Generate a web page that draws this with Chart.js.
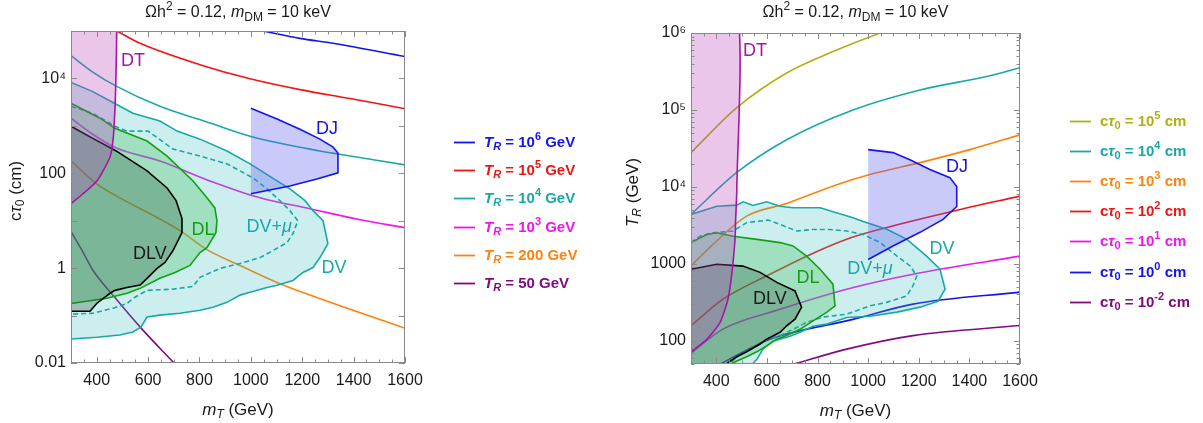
<!DOCTYPE html>
<html>
<head>
<meta charset="utf-8">
<script src="https://cdn.jsdelivr.net/npm/chart.js@4.4.0/dist/chart.umd.min.js"></script>
<style>
  html, body { margin: 0; padding: 0; background: #fff; }
  #marco { position: relative; width: 1203px; height: 423px; }
  canvas { position: absolute; top: 0; }
  #izq { left: 0; }
  #der { left: 600px; }
</style>
</head>
<body>
<div id="marco">
  <canvas id="izq" width="600" height="423"></canvas>
  <canvas id="der" width="603" height="423"></canvas>
</div>
<script>
const FUENTE = '"Liberation Sans", Arial, sans-serif';
const TINTA = '#1a1a1a';

// ---- eje x comun: mT (GeV) ----
const ejeXMarcas = [300, 350, 400, 450, 500, 550, 600, 650, 700, 750, 800, 850, 900, 950, 1000,
  1050, 1100, 1150, 1200, 1250, 1300, 1350, 1400, 1450, 1500, 1550, 1600];
const ejeXEtiquetas = [400, 600, 800, 1000, 1200, 1400, 1600];

// ---- panel izquierdo: c tau0 (cm) ----
const izqYMarcas = [0.01, 0.1, 1, 10, 100, 1000, 1e4, 1e5];
const izqYValoresEtiqueta = [0.01, 1, 100, 1e4];
const izqYEtiquetas = ['0.01', '1', '100', '10⁴'];

// curvas T_R
const izqX_TR6 = [1047, 1191, 1320, 1600];
const izqY_TR6 = [1.0e5, 7.0e4, 5.5e4, 2.9e4];
const izqX_TR5 = [478, 569, 802, 997, 1191, 1386, 1600];
const izqY_TR5 = [1.0e5, 5.5e4, 1.95e4, 9800, 5800, 3760, 2300];
const izqX_TR4 = [300, 383, 478, 646, 841, 997, 1269, 1339, 1600];
const izqY_TR4 = [30400, 13800, 6800, 2580, 1150, 606, 295, 255, 150];
const izqX_TR3 = [300, 383, 476, 646, 841, 1036, 1230, 1425, 1600];
const izqY_TR3 = [1450, 673, 340, 182, 69, 30.5, 17.9, 10.5, 7.1];
const izqX_TR200 = [300, 401, 440, 724, 829, 958, 1102, 1230, 1600];
const izqY_TR200 = [182, 59, 43, 6.2, 2.46, 1.14, 0.50, 0.27, 0.054];
const izqX_TR50 = [300, 343, 386, 471, 572, 701];
const izqY_TR50 = [5.9, 2.36, 0.89, 0.24, 0.055, 0.01];
const izqLeyendas = ['*T*_{*R*} = 10^{6} GeV', '*T*_{*R*} = 10^{5} GeV', '*T*_{*R*} = 10^{4} GeV',
  '*T*_{*R*} = 10^{3} GeV', '*T*_{*R*} = 200 GeV', '*T*_{*R*} = 50 GeV'];

// regiones excluidas
const izqX_DT = [300, 478, 478, 475, 471, 464, 453, 429, 401, 347, 300];
const izqY_DT = [2e5, 2e5, 1e5, 1.1e4, 2240, 525, 230, 123, 69, 37, 23];
const izqX_DJ = [1000, 1102, 1191, 1269, 1320, 1339, 1339, 1257, 1152, 1000];
const izqY_DJ = [2340, 1400, 850, 526, 355, 268, 102, 76, 54, 37];
const izqX_DV = [300, 383, 476, 541, 646, 713, 802, 907, 997, 1102, 1152, 1211, 1242, 1281, 1300, 1269,
  1242, 1203, 1164, 1102, 1063, 997, 958, 907, 853, 802, 724, 646, 596, 572, 541, 490, 401, 300];
const izqY_DV = [8250, 5340, 2850, 1850, 1260, 775, 525, 296, 158, 69, 47, 26.5, 16.3, 10, 3.3, 1.67,
  1.03, 0.81, 0.55, 0.435, 0.39, 0.31, 0.27, 0.19, 0.15, 0.13, 0.112, 0.102, 0.093, 0.057, 0.045, 0.039, 0.035, 0.032];
const izqX_DVmu = [300, 383, 471, 518, 600, 697, 802, 907, 1008, 1063, 1113, 1152, 1183, 1164, 1141, 1086,
  1036, 958, 880, 802, 775, 693, 596, 541, 518, 464, 386, 300];
const izqY_DVmu = [2570, 1850, 980, 775, 775, 324, 232, 158, 80, 47, 26.5, 16.3, 10, 5.36, 3.45, 2.35,
  1.67, 1.25, 0.99, 0.64, 0.41, 0.36, 0.34, 0.23, 0.18, 0.143, 0.112, 0.107];
const izqX_DL = [300, 413, 471, 596, 674, 775, 822, 860, 868, 864, 829, 802, 763, 705, 646, 569, 518, 440, 386, 300];
const izqY_DL = [2990, 1450, 893, 478, 230, 69, 34, 18.6, 10, 5.6, 2.7, 2.13, 1.14, 0.81, 0.61, 0.375, 0.295, 0.232, 0.21, 0.18];
const izqX_DLV = [300, 383, 476, 596, 674, 709, 732, 732, 697, 666, 635, 600, 569, 518, 471, 452, 401, 374, 300];
const izqY_DLV = [980, 550, 296, 112, 49, 26.5, 11.1, 5.6, 2.35, 1.32, 0.99, 0.64, 0.44, 0.39, 0.34, 0.295, 0.182, 0.123, 0.123];

const izqRotulos = ['DT', 'DJ', 'DL', 'DLV', 'DV+*μ*', 'DV'];
const izqRotuloX = [541, 1296, 814, 607, 1071, 1324];
const izqRotuloY = [2.3e4, 850, 6.5, 1.94, 7.5, 1.03];

// ---- panel derecho: T_R (GeV) ----
const derYValoresEtiqueta = [100, 1000, 1e4, 1e5, 1e6];
const derYEtiquetas = ['100', '1000', '10⁴', '10⁵', '10⁶'];

const derX_ct5 = [300, 481, 678, 876, 1047];
const derY_ct5 = [27900, 107000, 302000, 600000, 1e6];
const derX_ct4 = [300, 481, 678, 940, 1205, 1468, 1600];
const derY_ct4 = [4400, 15400, 41000, 100000, 182000, 272000, 354000];
const derX_ct3 = [300, 387, 520, 678, 876, 1007, 1205, 1402, 1600];
const derY_ct3 = [940, 1790, 4170, 6100, 10700, 14500, 20700, 30500, 47500];
const derX_ct2 = [300, 426, 612, 757, 915, 1047, 1335, 1600];
const derY_ct2 = [157, 347, 733, 1260, 2090, 2820, 4840, 7600];
const derX_ct1 = [300, 426, 652, 915, 1177, 1600];
const derY_ct1 = [69, 142, 257, 468, 733, 1260];
const derX_ct0 = [405, 612, 940, 1177, 1600];
const derY_ct0 = [48, 105, 190, 300, 430];
const derX_ctm2 = [700, 915, 1177, 1600];
const derY_ctm2 = [49, 78, 117, 158];
const derLeyendas = ['c*τ*_{0} = 10^{5} cm', 'c*τ*_{0} = 10^{4} cm', 'c*τ*_{0} = 10^{3} cm', 'c*τ*_{0} = 10^{2} cm',
  'c*τ*_{0} = 10^{1} cm', 'c*τ*_{0} = 10^{0} cm', 'c*τ*_{0} = 10^{-2} cm'];

const derX_DT = [300, 481, 481, 476, 474, 462, 446, 415, 363, 300];
const derY_DT = [2e6, 2e6, 9300, 3500, 2090, 780, 347, 174, 105, 72];
const derX_DJ = [1000, 1098, 1165, 1244, 1323, 1350, 1350, 1296, 1205, 1098, 1000];
const derY_DJ = [30500, 27900, 22600, 16800, 13200, 10100, 5570, 3790, 2570, 1710, 1140];
const derX_DV = [300, 402, 481, 506, 545, 599, 652, 704, 810, 940, 980, 1074, 1153, 1232, 1284, 1304, 1276,
  1205, 1114, 1007, 916, 837, 782, 731, 691, 624, 584, 561, 545, 540, 300];
const derY_DV = [4390, 5620, 5800, 6410, 5740, 6410, 5620, 5370, 5370, 3980, 3560, 2810, 2080, 1250, 851, 469, 327,
  274, 236, 209, 201, 165, 155, 129, 115, 99, 78, 58, 51, 45, 45];
const derX_DVmu = [300, 336, 387, 466, 520, 604, 652, 718, 782, 849, 915, 980, 1047, 1113, 1166, 1192, 1177,
  1152, 1073, 1007, 915, 822, 757, 703, 652, 599, 545, 494, 454, 440];
const derY_DVmu = [1890, 2290, 2540, 2670, 3430, 3710, 3250, 2670, 2800, 2800, 2670, 2410, 1900, 1270, 940, 695, 516,
  383, 316, 285, 222, 204, 174, 141, 117, 105, 83, 67, 51, 46];
const derX_DL = [300, 362, 402, 466, 560, 652, 703, 757, 810, 861, 869, 837, 782, 731, 678, 639, 599, 560, 520, 466, 440, 300];
const derY_DL = [1890, 2410, 2540, 2290, 2080, 1890, 1710, 1260, 851, 545, 285, 236, 182, 141, 117, 105, 86, 72, 62, 52, 45, 45];
const derX_DLV = [300, 402, 505, 573, 639, 711, 737, 711, 678, 652, 599, 573, 520, 481, 446, 430, 300];
const derY_DLV = [851, 990, 935, 776, 575, 445, 274, 191, 157, 129, 105, 91, 72, 62, 52, 45, 45];

const derRotulos = ['DT', 'DJ', 'DL', 'DLV', 'DV+*μ*', 'DV'];
const derRotuloX = [553, 1351, 762, 612, 1007, 1292];
const derRotuloY = [5.9e5, 18400, 646, 347, 851, 1550];

// ---- colores ----
const AZUL = 'rgb(20,20,235)', ROJO = 'rgb(240,20,20)', TURQUESA = 'rgb(25,168,168)';
const MAGENTA = 'rgb(240,20,240)', NARANJA = 'rgb(255,130,10)', MORADO = 'rgb(128,10,128)';
const OLIVA = 'rgb(176,176,20)', VERDE = 'rgb(20,160,20)', MAGENTA_DT = 'rgb(168,20,168)';
const colRotulos = [MAGENTA_DT, 'rgb(20,20,230)', VERDE, TINTA, TURQUESA, TURQUESA];

// ---- utilidades ----
const pts = (xs, ys) => xs.map((v, i) => ({ x: v, y: ys[i] }));

function curva(xs, ys, color, leyenda) {
  return { data: pts(xs, ys), borderColor: color, borderWidth: 1.6, pointRadius: 0, fill: false,
    cubicInterpolationMode: 'monotone', leyenda: leyenda, order: 10 };
}
function region(xs, ys, borde, relleno, orden, extra) {
  return Object.assign({ data: pts(xs, ys), borderColor: borde, backgroundColor: relleno, borderWidth: 1.6,
    pointRadius: 0, fill: 'shape', tension: 0, order: orden }, extra || {});
}

// texto con subindices (_{ }), superindices (^{ }) y cursiva (* *)
function parseRico(s) {
  const segs = [];
  let cursiva = false, modo = 0, i = 0;
  while (i < s.length) {
    const c = s[i];
    if (c === '*') { cursiva = !cursiva; i++; continue; }
    if ((c === '_' || c === '^') && s[i + 1] === '{') { modo = c === '_' ? 1 : 2; i += 2; continue; }
    if (c === '}' && modo) { modo = 0; i++; continue; }
    const ult = segs[segs.length - 1];
    if (ult && ult.cursiva === cursiva && ult.modo === modo) ult.t += c;
    else segs.push({ t: c, cursiva: cursiva, modo: modo });
    i++;
  }
  return segs;
}
function dibujaRico(ctx, s, x, y, o) {
  const segs = parseRico(s);
  const fuente = g => (g.cursiva ? 'italic ' : '') + (o.negrita ? 'bold ' : '') +
    (g.modo ? Math.round(o.tam * 0.72) : o.tam) + 'px ' + FUENTE;
  let ancho = 0;
  segs.forEach(g => { ctx.font = fuente(g); g.w = ctx.measureText(g.t).width; ancho += g.w; });
  let cx = o.centro ? x - ancho / 2 : x;
  ctx.fillStyle = o.color;
  ctx.textAlign = 'left';
  ctx.textBaseline = 'middle';
  segs.forEach(g => {
    ctx.font = fuente(g);
    const dy = g.modo === 1 ? o.tam * 0.3 : g.modo === 2 ? -o.tam * 0.38 : 0;
    ctx.fillText(g.t, cx, y + dy);
    cx += g.w;
  });
}

// marco, marcas hacia dentro, titulos, leyenda y rotulos
function crearMarco(p) {
  return {
    id: 'marco',
    afterDatasetsDraw(chart) {
      const { ctx, chartArea: a } = chart;
      const sx = chart.scales.x, sy = chart.scales.y;
      ctx.save();
      ctx.strokeStyle = '#8a8a8a';
      ctx.lineWidth = 1;
      ctx.beginPath();
      sx.ticks.forEach(t => {
        const px = Math.round(sx.getPixelForValue(t.value)) + 0.5;
        const l = ejeXEtiquetas.includes(t.value) ? 6 : 3.5;
        ctx.moveTo(px, a.bottom); ctx.lineTo(px, a.bottom - l);
        ctx.moveTo(px, a.top); ctx.lineTo(px, a.top + l);
      });
      sy.ticks.forEach(t => {
        const py = Math.round(sy.getPixelForValue(t.value)) + 0.5;
        const l = p.mayorY(t.value) ? 6 : 3.5;
        ctx.moveTo(a.left, py); ctx.lineTo(a.left + l, py);
        ctx.moveTo(a.right, py); ctx.lineTo(a.right - l, py);
      });
      ctx.stroke();
      ctx.strokeRect(Math.round(a.left) + 0.5, Math.round(a.top) + 0.5,
        Math.round(a.right - a.left) - 1, Math.round(a.bottom - a.top) - 1);

      // rotulos de regiones
      p.rotulos.forEach((r, i) => {
        dibujaRico(ctx, r, sx.getPixelForValue(p.rotX[i]), sy.getPixelForValue(p.rotY[i]),
          { tam: 18, color: colRotulos[i], centro: true });
      });

      // titulo y ejes
      const cxa = (a.left + a.right) / 2;
      dibujaRico(ctx, 'Ωh^{2} = 0.12, *m*_{DM} = 10 keV', cxa, 13, { tam: 16, color: TINTA, centro: true });
      dibujaRico(ctx, '*m*_{*T*} (GeV)', cxa, a.bottom + 47, { tam: 17, color: TINTA, centro: true });
      ctx.save();
      ctx.translate(p.tituloYx, (a.top + a.bottom) / 2 - 6);
      ctx.rotate(-Math.PI / 2);
      dibujaRico(ctx, p.tituloY, 0, 0, { tam: 17, color: TINTA, centro: true });
      ctx.restore();

      // leyenda
      let fila = 0;
      chart.data.datasets.forEach(ds => {
        if (!ds.leyenda) return;
        const y = Math.round(a.top + p.leyY0 + fila * p.leyDy) + 0.5;
        ctx.strokeStyle = ds.borderColor;
        ctx.lineWidth = 1.8;
        ctx.beginPath();
        ctx.moveTo(a.right + p.leyX0, y);
        ctx.lineTo(a.right + p.leyX0 + 21, y);
        ctx.stroke();
        dibujaRico(ctx, ds.leyenda, a.right + p.leyX0 + 30, y, { tam: 15, negrita: true, color: ds.borderColor });
        fila++;
      });
      ctx.restore();
    }
  };
}

function opciones(p) {
  const letra = { family: FUENTE, size: 16 };
  return {
    responsive: false,
    animation: false,
    events: [],
    layout: { padding: { top: p.arriba, right: p.derecha, left: 0, bottom: 0 } },
    plugins: { legend: { display: false }, tooltip: { enabled: false } },
    scales: {
      x: {
        type: 'linear', min: 300, max: 1600,
        afterFit: s => { s.height = p.abajo; },
        afterBuildTicks: s => { s.ticks = ejeXMarcas.map(v => ({ value: v })); },
        ticks: { autoSkip: false, maxRotation: 0, minRotation: 0, padding: 8, color: TINTA, font: letra,
          callback: v => ejeXEtiquetas.includes(v) ? String(v) : '' },
        grid: { display: true, drawOnChartArea: false, drawTicks: false },
        border: { display: false }
      },
      y: {
        type: 'logarithmic', min: p.ymin, max: p.ymax,
        afterFit: s => { s.width = p.izquierda; },
        afterBuildTicks: s => { s.ticks = p.yMarcas.map(v => ({ value: v })); },
        ticks: { autoSkip: false, padding: 5, color: TINTA, font: letra,
          callback: v => {
            const i = p.yValores.findIndex(t => Math.abs(Math.log10(t) - Math.log10(v)) < 1e-6);
            return i >= 0 ? p.yTextos[i] : '';
          } },
        grid: { display: true, drawOnChartArea: false, drawTicks: false },
        border: { display: false }
      }
    }
  };
}

const esDecada = v => Math.abs(Math.log10(v) - Math.round(Math.log10(v))) < 1e-6;

// relleno semitransparente
const RELL_DT = 'rgba(182,65,185,0.30)';
const RELL_DV = 'rgba(55,187,187,0.25)';
const RELL_DL = 'rgba(60,190,90,0.30)';
const RELL_DLV = 'rgba(40,85,60,0.30)';
const RELL_DJ = 'rgba(90,90,240,0.33)';

// ---- grafico izquierdo ----
new Chart(document.getElementById('izq'), {
  type: 'line',
  data: {
    datasets: [
      curva(izqX_TR6, izqY_TR6, AZUL, izqLeyendas[0]),
      curva(izqX_TR5, izqY_TR5, ROJO, izqLeyendas[1]),
      curva(izqX_TR4, izqY_TR4, TURQUESA, izqLeyendas[2]),
      curva(izqX_TR3, izqY_TR3, MAGENTA, izqLeyendas[3]),
      curva(izqX_TR200, izqY_TR200, NARANJA, izqLeyendas[4]),
      curva(izqX_TR50, izqY_TR50, MORADO, izqLeyendas[5]),
      region(izqX_DV, izqY_DV, TURQUESA, RELL_DV, 6),
      region(izqX_DVmu, izqY_DVmu, TURQUESA, 'rgba(0,0,0,0)', 5, { fill: false, borderDash: [5, 3] }),
      region(izqX_DL, izqY_DL, VERDE, RELL_DL, 4),
      region(izqX_DLV, izqY_DLV, '#000', RELL_DLV, 3),
      region(izqX_DJ, izqY_DJ, AZUL, RELL_DJ, 2),
      region(izqX_DT, izqY_DT, MAGENTA_DT, RELL_DT, 1, { tension: 0.25 })
    ]
  },
  options: opciones({ arriba: 31, derecha: 195, abajo: 60, izquierda: 71, ymin: 0.01, ymax: 1e5,
    yMarcas: izqYMarcas, yValores: izqYValoresEtiqueta, yTextos: izqYEtiquetas }),
  plugins: [crearMarco({ mayorY: esDecada, rotulos: izqRotulos, rotX: izqRotuloX, rotY: izqRotuloY,
    tituloY: 'c*τ*_{0} (cm)', tituloYx: 16, leyX0: 49, leyY0: 111, leyDy: 28.2 })]
});

// ---- grafico derecho ----
const derYMarcas = [];
[10, 100, 1000, 1e4, 1e5].forEach(d => [1, 2, 3, 4, 5, 6, 7, 8, 9].forEach(m => {
  const v = m * d;
  if (v >= 50 && v <= 1e6) derYMarcas.push(v);
}));
derYMarcas.push(1e6);

new Chart(document.getElementById('der'), {
  type: 'line',
  data: {
    datasets: [
      curva(derX_ct5, derY_ct5, OLIVA, derLeyendas[0]),
      curva(derX_ct4, derY_ct4, TURQUESA, derLeyendas[1]),
      curva(derX_ct3, derY_ct3, NARANJA, derLeyendas[2]),
      curva(derX_ct2, derY_ct2, ROJO, derLeyendas[3]),
      curva(derX_ct1, derY_ct1, MAGENTA, derLeyendas[4]),
      curva(derX_ct0, derY_ct0, AZUL, derLeyendas[5]),
      curva(derX_ctm2, derY_ctm2, MORADO, derLeyendas[6]),
      region(derX_DV, derY_DV, TURQUESA, RELL_DV, 6),
      region(derX_DVmu, derY_DVmu, TURQUESA, 'rgba(0,0,0,0)', 5, { fill: false, borderDash: [5, 3] }),
      region(derX_DL, derY_DL, VERDE, RELL_DL, 4),
      region(derX_DLV, derY_DLV, '#000', RELL_DLV, 3),
      region(derX_DJ, derY_DJ, AZUL, RELL_DJ, 2),
      region(derX_DT, derY_DT, MAGENTA_DT, RELL_DT, 1, { tension: 0.2 })
    ]
  },
  options: opciones({ arriba: 33, derecha: 183, abajo: 59, izquierda: 91, ymin: 50, ymax: 1e6,
    yMarcas: derYMarcas, yValores: derYValoresEtiqueta, yTextos: derYEtiquetas }),
  plugins: [crearMarco({ mayorY: esDecada, rotulos: derRotulos, rotX: derRotuloX, rotY: derRotuloY,
    tituloY: '*T*_{*R*} (GeV)', tituloYx: 33, leyX0: 50, leyY0: 88, leyDy: 30.1 })]
});
</script>
</body>
</html>
